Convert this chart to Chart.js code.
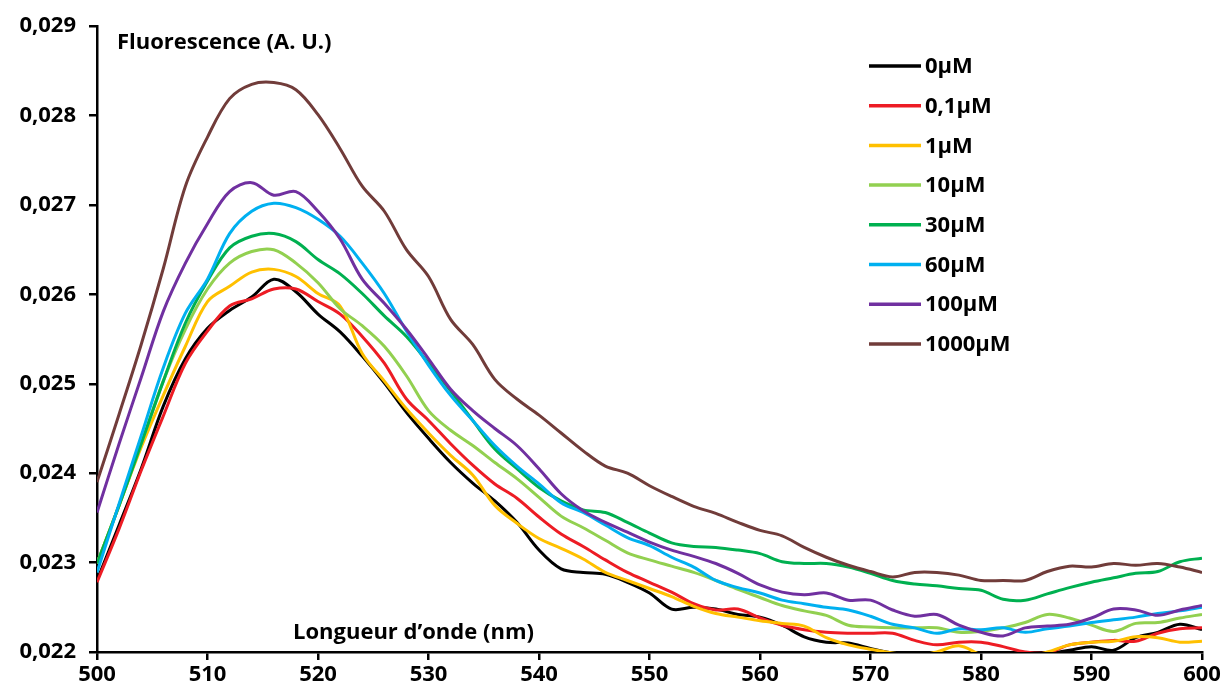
<!DOCTYPE html>
<html lang="fr">
<head>
<meta charset="utf-8">
<title>Fluorescence - Longueur d'onde</title>
<script src="https://cdn.jsdelivr.net/npm/chart.js@4.4.0/dist/chart.umd.min.js"></script>
<style>
    html, body { margin: 0; padding: 0; background: #fff; }
    #chartWrap { width: 1225px; height: 696px; position: relative; }
</style>
</head>
<body>
<div id="chartWrap"><canvas id="spectraChart"></canvas></div>
<script>
// Wavelength (nm), one reading every 2 nm
const wavelengths = [500, 502, 504, 506, 508, 510, 512, 514, 516, 518, 520, 522, 524, 526, 528, 530, 532, 534, 536, 538, 540,
    542, 544, 546, 548, 550, 552, 554, 556, 558, 560, 562, 564, 566, 568, 570, 572, 574, 576, 578, 580,
    582, 584, 586, 588, 590, 592, 594, 596, 598, 600];

// Fluorescence (A. U.), per concentration
const c0 = [0.02280, 0.02342, 0.02405, 0.02475, 0.02528, 0.02562, 0.02582, 0.02597, 0.02617, 0.02603, 0.02578,
    0.02558, 0.02531, 0.02501, 0.02468, 0.02439, 0.02412, 0.02389, 0.02369, 0.02345, 0.02314,
    0.02293, 0.02289, 0.02287, 0.02278, 0.02266, 0.02248, 0.02250, 0.02248, 0.02242, 0.02239,
    0.02230, 0.02217, 0.02211, 0.02210, 0.02204, 0.02199, 0.02197, 0.02197, 0.02196, 0.02196,
    0.02196, 0.02197, 0.02198, 0.02202, 0.02206, 0.02202, 0.02216, 0.02222, 0.02231, 0.02225];
const c01 = [0.02278, 0.02338, 0.02403, 0.02464, 0.02523, 0.02559, 0.02587, 0.02595, 0.02606, 0.02606, 0.02592,
    0.02578, 0.02553, 0.02523, 0.02483, 0.02459, 0.02433, 0.02409, 0.02388, 0.02372, 0.02351,
    0.02332, 0.02318, 0.02303, 0.02289, 0.02278, 0.02267, 0.02254, 0.02247, 0.02248, 0.02238,
    0.02230, 0.02225, 0.02222, 0.02221, 0.02221, 0.02221, 0.02213, 0.02208, 0.02211, 0.02211,
    0.02206, 0.02200, 0.02199, 0.02208, 0.02211, 0.02213, 0.02212, 0.02221, 0.02226, 0.02227];
const c1 = [0.02299, 0.02364, 0.02429, 0.02487, 0.02542, 0.02592, 0.02609, 0.02625, 0.02628, 0.02620, 0.02601,
    0.02587, 0.02534, 0.02503, 0.02472, 0.02445, 0.02420, 0.02398, 0.02364, 0.02344, 0.02327,
    0.02316, 0.02304, 0.02289, 0.02280, 0.02271, 0.02262, 0.02251, 0.02243, 0.02239, 0.02235,
    0.02232, 0.02229, 0.02216, 0.02208, 0.02203, 0.02199, 0.02196, 0.02200, 0.02207, 0.02197,
    0.02193, 0.02194, 0.02200, 0.02208, 0.02211, 0.02212, 0.02217, 0.02216, 0.02211, 0.02212];
const c10 = [0.02299, 0.02364, 0.02433, 0.02503, 0.02561, 0.02606, 0.02635, 0.02648, 0.02650, 0.02635, 0.02613,
    0.02584, 0.02565, 0.02542, 0.02509, 0.02470, 0.02448, 0.02431, 0.02412, 0.02394, 0.02373,
    0.02352, 0.02339, 0.02325, 0.02311, 0.02303, 0.02296, 0.02289, 0.02280, 0.02270, 0.02261,
    0.02252, 0.02246, 0.02241, 0.02230, 0.02228, 0.02227, 0.02227, 0.02227, 0.02222, 0.02223,
    0.02227, 0.02233, 0.02242, 0.02238, 0.02230, 0.02223, 0.02232, 0.02233, 0.02238, 0.02242];
const c30 = [0.02299, 0.02364, 0.02433, 0.02503, 0.02568, 0.02615, 0.02652, 0.02665, 0.02668, 0.02659, 0.02639,
    0.02623, 0.02601, 0.02576, 0.02553, 0.02523, 0.02492, 0.02459, 0.02427, 0.02405, 0.02384,
    0.02369, 0.02359, 0.02356, 0.02345, 0.02333, 0.02322, 0.02318, 0.02317, 0.02314, 0.02310,
    0.02301, 0.02299, 0.02299, 0.02295, 0.02288, 0.02280, 0.02276, 0.02274, 0.02271, 0.02269,
    0.02259, 0.02258, 0.02265, 0.02272, 0.02278, 0.02283, 0.02288, 0.02290, 0.02301, 0.02305];
const c60 = [0.02289, 0.02366, 0.02442, 0.02518, 0.02579, 0.02617, 0.02668, 0.02693, 0.02702, 0.02697, 0.02684,
    0.02665, 0.02635, 0.02601, 0.02559, 0.02521, 0.02487, 0.02459, 0.02431, 0.02408, 0.02388,
    0.02367, 0.02356, 0.02342, 0.02328, 0.02319, 0.02306, 0.02295, 0.02280, 0.02272, 0.02266,
    0.02258, 0.02254, 0.02250, 0.02247, 0.02240, 0.02231, 0.02227, 0.02221, 0.02226, 0.02225,
    0.02227, 0.02222, 0.02226, 0.02229, 0.02233, 0.02236, 0.02239, 0.02243, 0.02246, 0.02250];
const c100 = [0.02356, 0.02433, 0.02507, 0.02581, 0.02635, 0.02679, 0.02715, 0.02725, 0.02711, 0.02715, 0.02693,
    0.02662, 0.02617, 0.02590, 0.02561, 0.02528, 0.02494, 0.02470, 0.02450, 0.02431, 0.02405,
    0.02377, 0.02358, 0.02345, 0.02334, 0.02323, 0.02314, 0.02307, 0.02299, 0.02288, 0.02275,
    0.02267, 0.02264, 0.02266, 0.02258, 0.02258, 0.02247, 0.02240, 0.02242, 0.02230, 0.02222,
    0.02218, 0.02227, 0.02229, 0.02231, 0.02238, 0.02248, 0.02247, 0.02241, 0.02247, 0.02252];
const c1000 = [0.02390, 0.02466, 0.02544, 0.02629, 0.02721, 0.02776, 0.02819, 0.02835, 0.02837, 0.02829, 0.02801,
    0.02763, 0.02721, 0.02693, 0.02650, 0.02620, 0.02572, 0.02544, 0.02505, 0.02483, 0.02465,
    0.02445, 0.02425, 0.02408, 0.02400, 0.02386, 0.02374, 0.02363, 0.02355, 0.02345, 0.02336,
    0.02330, 0.02317, 0.02306, 0.02297, 0.02290, 0.02284, 0.02289, 0.02289, 0.02286, 0.02280,
    0.02280, 0.02280, 0.02290, 0.02296, 0.02295, 0.02299, 0.02297, 0.02299, 0.02295, 0.02289];

const seriesLabels = ['0µM', '0,1µM', '1µM', '10µM', '30µM', '60µM', '100µM', '1000µM'];
const seriesValues = [c0, c01, c1, c10, c30, c60, c100, c1000];
const seriesColors = ['#000000', '#ED1C24', '#FFC000', '#92D050', '#00B050', '#00B0F0', '#7030A0', '#713C3A'];

const FONT_FAMILY = '"Open Sans", "DejaVu Sans", sans-serif';

// Axis titles and legend sit inside the plot area, so draw them by hand
const insideLabels = {
    id: 'insideLabels',
    afterDraw(chart) {
        const ctx = chart.ctx;
        const area = chart.chartArea;
        ctx.save();
        ctx.font = 'bold 22px ' + FONT_FAMILY;
        ctx.fillStyle = '#000';
        ctx.textAlign = 'left';
        ctx.textBaseline = 'middle';
        ctx.fillText('Fluorescence (A. U.)', area.left + 20, area.top + 17);
        ctx.fillText('Longueur d\u2019onde (nm)', area.left + 196, area.bottom - 19);

        // legend, one row per dataset
        chart.data.datasets.forEach(function(ds, i) {
            const y = 66 + i * 39.7;
            ctx.strokeStyle = ds.borderColor;
            ctx.lineWidth = 3.5;
            ctx.beginPath();
            ctx.moveTo(869, y);
            ctx.lineTo(921, y);
            ctx.stroke();
            ctx.fillText(ds.label, 925, y + 1);
        });
        ctx.restore();
    }
};

document.addEventListener('DOMContentLoaded', function() {
    const canvas = document.getElementById('spectraChart');
    const ctx = canvas.getContext('2d');

    const datasets = seriesValues.map(function(values, i) {
        return {
            label: seriesLabels[i],
            data: wavelengths.map(function(w, j) { return { x: w, y: values[j] }; }),
            borderColor: seriesColors[i],
            backgroundColor: seriesColors[i],
            borderWidth: 3,
            pointRadius: 0,
            tension: 0.35,
            fill: false,
            order: seriesValues.length - i
        };
    });

    const tickFont = { family: FONT_FAMILY, size: 22, weight: 'bold' };

    new Chart(ctx, {
        type: 'line',
        data: { datasets: datasets },
        options: {
            responsive: true,
            maintainAspectRatio: false,
            animation: false,
            layout: { padding: { left: 0, right: 23, top: 24, bottom: 0 } },
            plugins: {
                legend: { display: false },
                tooltip: { enabled: false }
            },
            scales: {
                x: {
                    type: 'linear',
                    min: 500,
                    max: 600,
                    border: { display: true, color: '#000', width: 2.5 },
                    grid: { display: true, drawOnChartArea: false, drawTicks: true, tickLength: 8, color: '#000', lineWidth: 2.5 },
                    ticks: { stepSize: 10, color: '#000', font: tickFont, padding: 2, maxRotation: 0 },
                    afterFit: function(scale) { scale.height = 44; }
                },
                y: {
                    min: 0.022,
                    max: 0.029,
                    border: { display: true, color: '#000', width: 2.5 },
                    grid: { display: true, drawOnChartArea: false, drawTicks: true, tickLength: 8, color: '#000', lineWidth: 2.5 },
                    ticks: {
                        stepSize: 0.001,
                        color: '#000',
                        font: tickFont,
                        padding: 13,
                        callback: function(value) {
                            return value.toFixed(3).replace('.', ',');
                        }
                    },
                    afterFit: function(scale) { scale.width = 97; }
                }
            }
        },
        plugins: [insideLabels]
    });
});
</script>
</body>
</html>
